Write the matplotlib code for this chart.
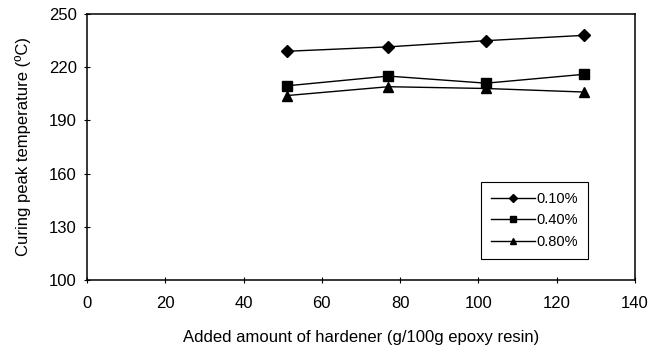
import matplotlib
matplotlib.use('Agg')
import matplotlib.pyplot as plt

plt.rcParams['font.family'] = ['Liberation Sans', 'DejaVu Sans']

# data
hardener = [51, 77, 102, 127]
temp_010 = [229, 231.5, 235, 238]
temp_040 = [209.5, 215, 211, 216]
temp_080 = [204, 209, 208, 206]
labels = ['0.10%', '0.40%', '0.80%']
x_ticks = [0, 20, 40, 60, 80, 100, 120, 140]
y_ticks = [100, 130, 160, 190, 220, 250]

fig = plt.figure(figsize=(6.51, 3.52), dpi=100)
ax = fig.add_axes([0.134, 0.205, 0.841, 0.755])

ax.plot(hardener, temp_010, color='black', lw=1, marker='D', ms=6, label=labels[0])
ax.plot(hardener, temp_040, color='black', lw=1, marker='s', ms=6.5, label=labels[1])
ax.plot(hardener, temp_080, color='black', lw=1, marker='^', ms=7, label=labels[2])

ax.set_xlim(0, 140)
ax.set_ylim(100, 250)
ax.set_xticks(x_ticks)
ax.set_yticks(y_ticks)
ax.tick_params(direction='inout', length=5, width=0.8, labelsize=12)
ax.tick_params(axis='x', pad=9)
ax.tick_params(axis='y', pad=5)
for s in ax.spines.values():
    s.set_linewidth(1.1)

ax.set_xlabel('Added amount of hardener (g/100g epoxy resin)', fontsize=12, labelpad=14)
ax.set_ylabel('Curing peak temperature (ºC)', fontsize=12, labelpad=13)

leg = ax.legend(loc='lower left', bbox_to_anchor=(0.719, 0.079), fancybox=False,
                edgecolor='black', framealpha=1, fontsize=10.5, handlelength=3.0,
                markerscale=0.7, borderpad=0.7, labelspacing=0.5, handletextpad=0.1,
                borderaxespad=0)
leg.get_frame().set_linewidth(0.8)

fig.savefig('out.png', dpi=100)
